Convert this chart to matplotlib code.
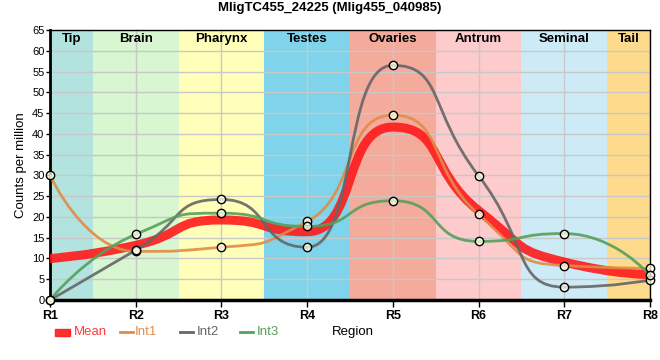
import matplotlib.pyplot as plt
from matplotlib.path import Path
from matplotlib.patches import PathPatch, Rectangle
from matplotlib.lines import Line2D
import numpy as np

plt.rcParams['font.family'] = ['Liberation Sans', 'DejaVu Sans']

# data
regions = ["R1", "R2", "R3", "R4", "R5", "R6", "R7", "R8"]
int1 = [30.0, 11.7, 12.7, 18.9, 44.5, 20.6, 8.3, 7.6]
int2 = [0.0, 12.0, 24.2, 12.7, 56.5, 29.9, 3.1, 4.8]
int3 = [0.0, 15.8, 20.9, 17.7, 23.9, 14.1, 16.0, 5.9]
mean = list(np.mean([int1, int2, int3], axis=0))

tissues = ["Tip", "Brain", "Pharynx", "Testes", "Ovaries", "Antrum", "Seminal", "Tail"]
tissue_spans = [(0, 0.5), (0.5, 1.5), (1.5, 2.5), (2.5, 3.5), (3.5, 4.5), (4.5, 5.5), (5.5, 6.5), (6.5, 7)]
tissue_colors = ["#b3e3de", "#d8f6d0", "#ffffb9", "#7fd4ec", "#f4ab9c", "#fecbcc", "#cdebf6", "#fedb8c"]


def spline_path(xs, ys, smoothing=0.7):
    # bezier through each point, control points kept inside neighbour range
    n = len(xs)
    verts = [(xs[0], ys[0])]
    codes = [Path.MOVETO]
    right_prev = None
    denom = smoothing + 1
    for i in range(1, n):
        px, py = xs[i], ys[i]
        lx, ly = xs[i - 1], ys[i - 1]
        rc = None
        if i < n - 1:
            nx, ny = xs[i + 1], ys[i + 1]
            lcx = (smoothing * px + lx) / denom
            lcy = (smoothing * py + ly) / denom
            rcx = (smoothing * px + nx) / denom
            rcy = (smoothing * py + ny) / denom
            corr = (rcy - lcy) * (rcx - px) / (rcx - lcx) + py - rcy
            lcy += corr
            rcy += corr
            if lcy > ly and lcy > py:
                lcy = max(ly, py)
                rcy = 2 * py - lcy
            elif lcy < ly and lcy < py:
                lcy = min(ly, py)
                rcy = 2 * py - lcy
            if rcy > ny and rcy > py:
                rcy = max(ny, py)
                lcy = 2 * py - rcy
            elif rcy < ny and rcy < py:
                rcy = min(ny, py)
                lcy = 2 * py - rcy
            rc = (rcx, rcy)
        else:
            lcx, lcy = px, py
        c1 = right_prev if right_prev is not None else (lx, ly)
        verts += [c1, (lcx, lcy), (px, py)]
        codes += [Path.CURVE4] * 3
        right_prev = rc
    return Path(verts, codes)


fig = plt.figure(figsize=(6.6, 3.6), dpi=100)
ax = fig.add_axes([50 / 660, 60 / 360, 600 / 660, 270 / 360])

for (a, b), c, name in zip(tissue_spans, tissue_colors, tissues):
    ax.axvspan(a, b, color=c, lw=0, zorder=0)
    ax.text((a + b) / 2, 64.2, name, ha="center", va="top", fontsize=9.5, fontweight="bold", zorder=5)

x = np.arange(len(regions))
series = [
    ("Mean", mean, "#ff1a1a", 6.5),
    ("Int1", int1, "#e08c48", 2),
    ("Int2", int2, "#666666", 2),
    ("Int3", int3, "#55a05a", 2),
]
for name, vals, col, lw in series:
    p = PathPatch(spline_path(list(x), vals), fc="none", ec=col, lw=lw, alpha=0.9, zorder=3,
                  capstyle="butt", joinstyle="round")
    ax.add_patch(p)
    if name != "Mean":
        ax.plot(x, vals, "o", ms=6, mfc=(1, 1, 0.92, 0.75), mec="black", mew=1, zorder=4, clip_on=False)

ax.set_xlim(0, 7)
ax.set_ylim(0, 65)
ax.set_xticks(x)
ax.set_xticklabels(regions, fontweight="bold", fontsize=9)
ax.set_yticks(np.arange(0, 66, 5))
ax.tick_params(axis="y", labelsize=8, length=3, width=1, pad=1)
ax.tick_params(axis="x", length=5, width=1, pad=2)
ax.grid(True, color="#c8c8c8", lw=1, zorder=1)
ax.set_axisbelow(True)
for s in ["top", "right"]:
    ax.spines[s].set_linewidth(1)
ax.spines["left"].set_linewidth(2)
ax.spines["bottom"].set_linewidth(2.5)
ax.set_ylabel("Counts per million", fontsize=9.5, labelpad=4)
fig.text(0.5, 352 / 360, "MligTC455_24225 (Mlig455_040985)", fontsize=9.5, fontweight="bold",
         ha="center", va="center")

# legend row, placed by hand like the original
ly = 28 / 360
fig.add_artist(Rectangle((55 / 660, ly - 3.5 / 360), 15 / 660, 7 / 360, color="#ff1a1a", alpha=0.9,
                         transform=fig.transFigure))
fig.text(74 / 660, ly, "Mean", color="#ff3b3b", fontsize=9.5, va="center")
leg_pos = [(120, 135, "Int1", "#e08c48"), (180, 197, "Int2", "#666666"), (240, 257, "Int3", "#55a05a")]
for x0, tx, name, col in leg_pos:
    fig.add_artist(Line2D([x0 / 660, (x0 + 13) / 660], [ly, ly], color=col, lw=2, transform=fig.transFigure))
    fig.text(tx / 660, ly, name, color=col, fontsize=9.5, va="center")
fig.text(332 / 660, ly, "Region", fontsize=9.5, va="center", ha="left")

fig.savefig("out.png", dpi=100)
